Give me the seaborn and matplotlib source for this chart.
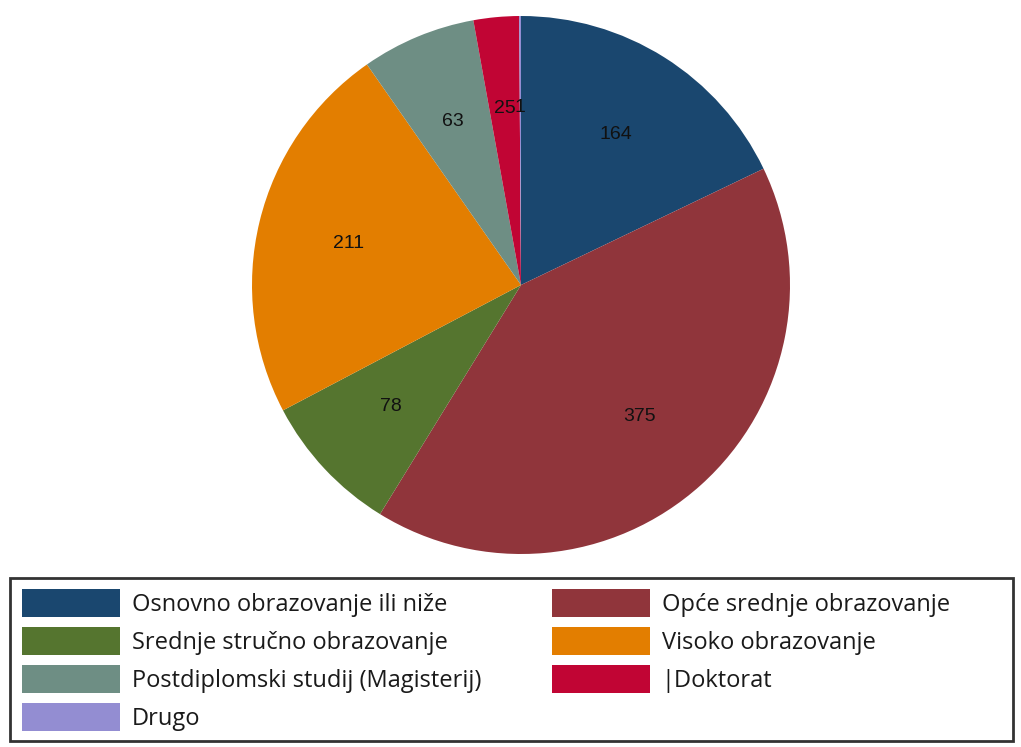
import matplotlib
matplotlib.use("Agg")
import matplotlib.pyplot as plt
import seaborn as sns
from matplotlib.patches import Patch, Rectangle

categories = ["Osnovno obrazovanje ili niže", "Opće srednje obrazovanje",
              "Srednje stručno obrazovanje", "Visoko obrazovanje",
              "Postdiplomski studij (Magisterij)", "|Doktorat", "Drugo"]
values = [164, 375, 78, 211, 63, 25, 1]
colors = ["#1a476f", "#90353b", "#55752f", "#e37e00", "#6e8e84", "#c10534", "#938dd2"]

sns.set_theme(style="white")
plt.rcParams['font.family'] = ['Liberation Sans', 'DejaVu Sans']

W, H = 1021, 747
fig = plt.figure(figsize=(W / 100, H / 100), dpi=100)
fig.patch.set_facecolor("white")

cx, cy, r = 521, 285, 269
ax = fig.add_axes([(cx - r) / W, (H - cy - r) / H, 2 * r / W, 2 * r / H])
total = sum(values)
palette = sns.color_palette(colors)
wedges, texts, autotexts = ax.pie(
    values, colors=palette, startangle=90, counterclock=False,
    autopct=lambda p: f"{int(round(p * total / 100))}", pctdistance=0.66,
    wedgeprops=dict(linewidth=0, edgecolor="none"),
    textprops=dict(fontsize=14, color="#111111"))
ax.set_xlim(-1, 1)
ax.set_ylim(-1, 1)
ax.set_aspect("equal")
ax.axis("off")

# legend frame
fig.patches.append(Rectangle((10 / W, (H - 741) / H), (1013 - 10) / W, (741 - 578) / H,
                             transform=fig.transFigure, facecolor="white",
                             edgecolor="#333333", linewidth=2, zorder=0))

fs = 17
fspx = fs * 100 / 72
order = [0, 2, 4, 6, 1, 3, 5]
handles = [Patch(facecolor=colors[i], edgecolor="none") for i in order]
labels = [categories[i] for i in order]
leg = fig.legend(handles, labels, ncol=2, frameon=False, loc="upper left",
                 bbox_to_anchor=(22 / W, (H - 589) / H),
                 prop={'family': ['Open Sans', 'DejaVu Sans'], 'size': fs},
                 handlelength=98 / fspx, handleheight=1.448,
                 handletextpad=0.5, labelspacing=0.42, columnspacing=3.0,
                 borderpad=0, borderaxespad=0)
for t in leg.get_texts():
    t.set_color("#1a1a1a")

fig.savefig("out.png", dpi=100, facecolor="white")
